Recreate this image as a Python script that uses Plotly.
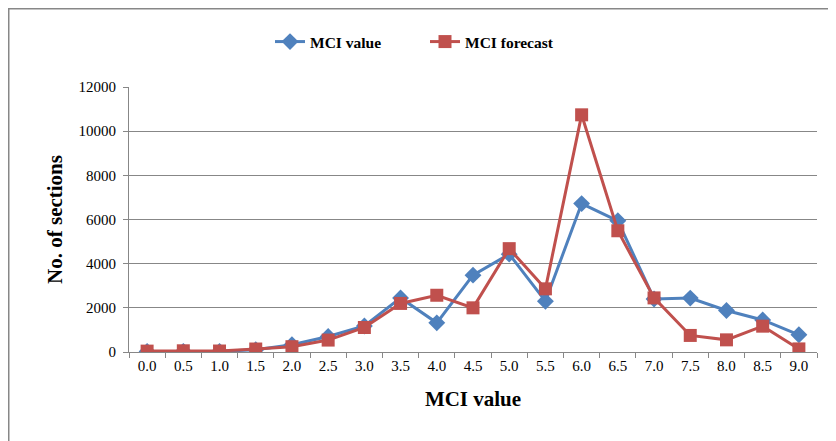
import plotly.graph_objects as go

categories = ["0.0", "0.5", "1.0", "1.5", "2.0", "2.5", "3.0", "3.5", "4.0", "4.5",
              "5.0", "5.5", "6.0", "6.5", "7.0", "7.5", "8.0", "8.5", "9.0"]
mci_value = [20, 30, 30, 100, 330, 700, 1180, 2450, 1320, 3480,
             4430, 2300, 6720, 5940, 2400, 2440, 1880, 1450, 780]
mci_forecast = [40, 55, 45, 135, 240, 540, 1110, 2200, 2570, 2000,
                4680, 2860, 10740, 5490, 2450, 750, 550, 1170, 140]
y_ticks = [0, 2000, 4000, 6000, 8000, 10000, 12000]
y_tick_labels = ["0", "2000", "4000", "6000", "8000", "10000", "12000"]

BLUE = "#4F81BD"
RED = "#C0504D"
GRAY = "#878787"
FONT = "Liberation Serif"

fig = go.Figure()
fig.add_trace(go.Scatter(
    x=categories, y=mci_value, name="MCI value", mode="lines+markers",
    line=dict(color=BLUE, width=3),
    marker=dict(symbol="diamond", size=13, color=BLUE),
))
fig.add_trace(go.Scatter(
    x=categories, y=mci_forecast, name="MCI forecast", mode="lines+markers",
    line=dict(color=RED, width=3),
    marker=dict(symbol="square", size=13, color=RED),
))

# page body has an 8px margin; figure placed at (8, 8) in the viewport
OFF = 8
VW, VH = 836, 441
PL, PR, PT, PB = 129, 817, 87, 352  # plot area in viewport pixels
W, H = VW - OFF, VH - OFF
L, R, T, B = PL - OFF, VW - PR, PT - OFF, VH - PB
pw, ph = PR - PL, PB - PT

def px_x(p):
    return (p - PL) / pw

def px_y(p):
    return (PB - p) / ph

fig.update_layout(
    width=W, height=H,
    margin=dict(l=L, r=R, t=T, b=B, autoexpand=False),
    paper_bgcolor="white", plot_bgcolor="white",
    font=dict(family=FONT, color="black", size=15),
    showlegend=True,
    legend=dict(
        orientation="h", x=px_x(425), xanchor="center", y=px_y(42), yanchor="middle",
        font=dict(family=FONT, size=15.5, color="black", weight="bold"),
        bgcolor="rgba(0,0,0,0)", entrywidth=110, entrywidthmode="pixels",
    ),
    xaxis=dict(
        type="category", range=[-0.5, 18.5], automargin=False,
        tickson="boundaries", ticks="outside", ticklen=5, tickcolor=GRAY,
        showline=True, linecolor=GRAY, linewidth=1,
        showgrid=False, zeroline=False,
        tickfont=dict(family=FONT, size=15, color="black"),
        title=dict(text="MCI value", font=dict(family=FONT, size=21, color="black", weight="bold"), standoff=18),
    ),
    yaxis=dict(
        range=[0, 12000], tickvals=y_ticks, ticktext=y_tick_labels, automargin=False,
        ticks="outside", ticklen=5, tickcolor=GRAY,
        showline=True, linecolor=GRAY, linewidth=1,
        showgrid=True, gridcolor=GRAY, gridwidth=1,
        zeroline=False,
        tickfont=dict(family=FONT, size=15, color="black"),
        ticklabelstandoff=4,
        title=dict(text="No. of sections", font=dict(family=FONT, size=21, color="black", weight="bold"), standoff=10),
    ),
    shapes=[dict(
        type="rect", xref="paper", yref="paper",
        x0=px_x(8.5), x1=px_x(900), y0=px_y(8.5), y1=px_y(500),
        line=dict(color=GRAY, width=2), fillcolor="rgba(0,0,0,0)", layer="below",
    )],
)

fig.write_html("out.html")
